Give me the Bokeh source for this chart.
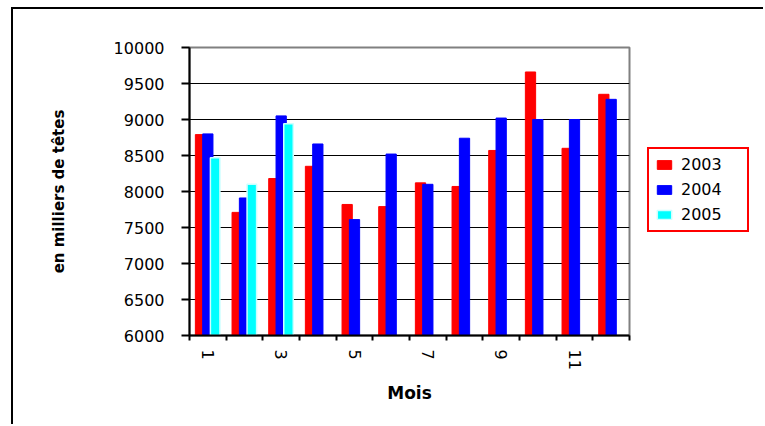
import numpy as np
from bokeh.plotting import figure
from bokeh.layouts import row
from bokeh.models import (ColumnDataSource, FixedTicker, Legend, LegendItem)
from bokeh.transform import dodge
from bokeh.embed import file_html
from bokeh.resources import INLINE

months = list(range(1, 13))
v2003 = [8790, 7710, 8180, 8350, 7820, 7790, 8120, 8070, 8570, 9660, 8600, 9350]
v2004 = [8800, 7910, 9050, 8660, 7610, 8520, 8100, 8740, 9020, 9000, 9000, 9280]
v2005 = [8470, 8100, 8940] + [np.nan] * 9
series_names = ["2003", "2004", "2005"]
y_ticks = [6000, 6500, 7000, 7500, 8000, 8500, 9000, 9500, 10000]
x_label_ticks = [1, 3, 5, 7, 9, 11]
colors = ["#FF0000", "#0000FF", "#00FFFF"]
edge_colors = ["#FF0000", "#0000FF", "#CCFFFF"]

src = ColumnDataSource(dict(month=months, a=v2003, b=v2004, c=v2005))

H = 415
FL, FR, FT, FB = 176, 616, 38, 326   # frame edges in canvas px
W1 = FR + 2
W2 = 750 - W1
p = figure(width=W1, height=H, output_backend="svg", toolbar_location=None,
           x_range=(0.5, 12.5), y_range=(6000, 10000),
           min_border_left=FL, min_border_right=2,
           min_border_top=FT, min_border_bottom=H - FB)

FONT = "DejaVu Sans"
offsets = [-0.2, 0.0, 0.2]
widths = [0.28, 0.28, 0.26]
renderers = []
for col, off, w, fc, lc in zip(["a", "b", "c"], offsets, widths, colors, edge_colors):
    r = p.vbar(x=dodge("month", off), top=col, bottom=6000, width=w, source=src,
               fill_color=fc, line_color=lc, line_width=1.5 if col == "c" else 1)
    renderers.append(r)

# grid
p.xgrid.grid_line_color = None
p.ygrid.ticker = FixedTicker(ticks=y_ticks[1:-1])
p.ygrid.grid_line_color = "black"
p.ygrid.grid_line_width = 1

p.outline_line_color = "#808080"
p.outline_line_width = 2
p.background_fill_color = "white"

# y axis
p.yaxis.ticker = FixedTicker(ticks=y_ticks)
p.yaxis.axis_line_color = "black"
p.yaxis.axis_line_width = 2
p.yaxis.major_tick_out = 8
p.yaxis.major_tick_in = 0
p.yaxis.major_tick_line_width = 2
p.yaxis.minor_tick_line_color = None
p.yaxis.major_label_standoff = 17
p.yaxis.major_label_text_font = FONT
p.yaxis.major_label_text_font_size = "16px"
p.yaxis.major_label_text_color = "black"
p.yaxis.axis_label = "en milliers de têtes"
p.yaxis.axis_label_text_font = FONT
p.yaxis.axis_label_text_font_style = "bold"
p.yaxis.axis_label_text_font_size = "15px"
p.yaxis.axis_label_text_color = "black"
p.yaxis.axis_label_standoff = 43

# x axis
p.xaxis.ticker = FixedTicker(ticks=x_label_ticks,
                             minor_ticks=[m + 0.5 for m in range(0, 13)])
p.xaxis.axis_line_color = "black"
p.xaxis.axis_line_width = 2
p.xaxis.major_tick_line_color = None
p.xaxis.major_tick_out = 0
p.xaxis.major_tick_in = 0
p.xaxis.minor_tick_line_color = "black"
p.xaxis.minor_tick_line_width = 2
p.xaxis.minor_tick_out = 5
p.xaxis.minor_tick_in = 0
p.xaxis.major_label_orientation = "vertical"
p.xaxis.major_label_standoff = 9
p.xaxis.major_label_text_font = FONT
p.xaxis.major_label_text_font_size = "16px"
p.xaxis.major_label_text_color = "black"
p.xaxis.axis_label = "Mois"
p.xaxis.axis_label_text_font = FONT
p.xaxis.axis_label_text_font_style = "bold"
p.xaxis.axis_label_text_font_size = "17px"
p.xaxis.axis_label_text_color = "black"
p.xaxis.axis_label_standoff = 10

# legend panel (separate canvas so that it is not clipped by the frame)
pl = figure(width=W2, height=H, output_backend="svg", toolbar_location=None,
            x_axis_type=None, y_axis_type=None, x_range=(0, 1), y_range=(0, 1),
            min_border=0)
pl.outline_line_color = None
pl.xgrid.grid_line_color = None
pl.ygrid.grid_line_color = None
dummies = []
for fc, lc, w in zip(colors, edge_colors, [1, 1, 1.5]):
    # placed outside the visible range: only used for the legend swatches
    dummies.append(pl.vbar(x=[5], top=[6], bottom=[5], width=0.1, fill_color=fc,
                           line_color=lc, line_width=w))

legend = Legend(items=[LegendItem(label=n, renderers=[r])
                       for n, r in zip(series_names, dummies)],
                location=(16, 103))
legend.border_line_color = "#FF0000"
legend.border_line_width = 2
legend.border_line_alpha = 1
legend.background_fill_color = "white"
legend.background_fill_alpha = 1
legend.padding = 6
legend.spacing = 6
legend.glyph_width = 18
legend.glyph_height = 11
legend.label_height = 17
legend.label_width = 60
legend.label_standoff = 8
legend.label_text_font = FONT
legend.label_text_font_size = "16px"
legend.label_text_color = "black"
legend.margin = 0
pl.add_layout(legend, "center")

lay = row(p, pl)
lay.spacing = 0
lay.styles = {"border-top": "2px solid black", "border-left": "2px solid black",
              "margin-left": "11px", "margin-top": "7px"}

open("out.html", "w").write(file_html(lay, INLINE))
